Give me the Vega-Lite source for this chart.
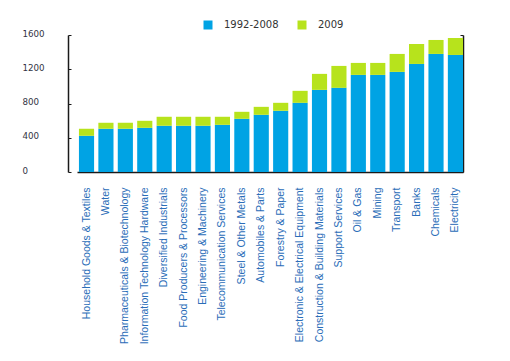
{
  "$schema": "https://vega.github.io/schema/vega-lite/v6.json",
  "width": 386,
  "height": 137,
  "autosize": "none",
  "padding": {"left": 77, "top": 35, "right": 47, "bottom": 189},
  "background": "white",
  "config": {"view": {"stroke": null}},
  "data": {
    "values": [
      {"sector": "Household Goods & Textiles", "period": "1992-2008", "value": 423},
      {"sector": "Household Goods & Textiles", "period": "2009", "value": 82},
      {"sector": "Water", "period": "1992-2008", "value": 505},
      {"sector": "Water", "period": "2009", "value": 70},
      {"sector": "Pharmaceuticals & Biotechnology", "period": "1992-2008", "value": 505},
      {"sector": "Pharmaceuticals & Biotechnology", "period": "2009", "value": 70},
      {"sector": "Information Technology Hardware", "period": "1992-2008", "value": 516},
      {"sector": "Information Technology Hardware", "period": "2009", "value": 82},
      {"sector": "Diversified Industrials", "period": "1992-2008", "value": 540},
      {"sector": "Diversified Industrials", "period": "2009", "value": 105},
      {"sector": "Food Producers & Processors", "period": "1992-2008", "value": 540},
      {"sector": "Food Producers & Processors", "period": "2009", "value": 105},
      {"sector": "Engineering & Machinery", "period": "1992-2008", "value": 540},
      {"sector": "Engineering & Machinery", "period": "2009", "value": 105},
      {"sector": "Telecommunication Services", "period": "1992-2008", "value": 551},
      {"sector": "Telecommunication Services", "period": "2009", "value": 94},
      {"sector": "Steel & Other Metals", "period": "1992-2008", "value": 621},
      {"sector": "Steel & Other Metals", "period": "2009", "value": 82},
      {"sector": "Automobiles & Parts", "period": "1992-2008", "value": 668},
      {"sector": "Automobiles & Parts", "period": "2009", "value": 93},
      {"sector": "Forestry & Paper", "period": "1992-2008", "value": 715},
      {"sector": "Forestry & Paper", "period": "2009", "value": 93},
      {"sector": "Electronic & Electrical Equipment", "period": "1992-2008", "value": 808},
      {"sector": "Electronic & Electrical Equipment", "period": "2009", "value": 140},
      {"sector": "Construction & Building Materials", "period": "1992-2008", "value": 959},
      {"sector": "Construction & Building Materials", "period": "2009", "value": 187},
      {"sector": "Support Services", "period": "1992-2008", "value": 983},
      {"sector": "Support Services", "period": "2009", "value": 256},
      {"sector": "Oil & Gas", "period": "1992-2008", "value": 1134},
      {"sector": "Oil & Gas", "period": "2009", "value": 140},
      {"sector": "Mining", "period": "1992-2008", "value": 1134},
      {"sector": "Mining", "period": "2009", "value": 140},
      {"sector": "Transport", "period": "1992-2008", "value": 1169},
      {"sector": "Transport", "period": "2009", "value": 210},
      {"sector": "Banks", "period": "1992-2008", "value": 1262},
      {"sector": "Banks", "period": "2009", "value": 233},
      {"sector": "Chemicals", "period": "1992-2008", "value": 1379},
      {"sector": "Chemicals", "period": "2009", "value": 163},
      {"sector": "Electricity", "period": "1992-2008", "value": 1367},
      {"sector": "Electricity", "period": "2009", "value": 198}
    ]
  },
  "layer": [
    {
      "mark": {"type": "bar"},
      "encoding": {
        "x": {
          "field": "sector",
          "type": "nominal",
          "sort": null,
          "scale": {"paddingInner": 0.22, "paddingOuter": 0.05, "align": 1},
          "axis": {
            "title": null,
            "labelAngle": -90,
            "labelAlign": "right",
            "labelBaseline": "middle",
            "labelFont": "Liberation Sans",
            "labelFontSize": 10.5,
            "labelColor": "#2a6db8",
            "labelPadding": 15,
            "ticks": false,
            "domainColor": "#1a1a1a",
            "domainWidth": 1.5,
            "labelLimit": 300
          }
        },
        "y": {
          "field": "value",
          "type": "quantitative",
          "stack": "zero",
          "scale": {"domain": [0, 1600], "nice": false},
          "axis": {
            "title": null,
            "values": [0, 400, 800, 1200, 1600],
            "format": "d",
            "grid": false,
            "offset": 9,
            "tickSize": -3,
            "tickColor": "#1a1a1a",
            "domainColor": "#1a1a1a",
            "domainWidth": 1.5,
            "labelAlign": "left",
            "labelBaseline": "middle",
            "labelPadding": 49,
            "labelOffset": -2,
            "labelFont": "DejaVu Sans",
            "labelFontSize": 8.7,
            "labelColor": "#333344"
          }
        },
        "order": {"field": "period", "sort": "ascending"},
        "color": {
          "field": "period",
          "type": "nominal",
          "scale": {"domain": ["1992-2008", "2009"], "range": ["#00a3e4", "#b7e31c"]},
          "legend": {
            "title": null,
            "orient": "none",
            "legendX": 126,
            "legendY": -15,
            "direction": "horizontal",
            "symbolType": "square",
            "symbolSize": 81,
            "symbolStrokeWidth": 0,
            "labelFont": "DejaVu Sans",
            "labelFontSize": 10,
            "labelColor": "#333333",
            "labelOffset": 11,
            "columnPadding": 18
          }
        }
      }
    },
    {
      "mark": {"type": "rule", "opacity": 0},
      "encoding": {
        "y": {
          "datum": 0,
          "type": "quantitative",
          "axis": {
            "orient": "right",
            "title": null,
            "labels": false,
            "values": [0, 400, 800, 1200, 1600],
            "grid": false,
            "tickSize": -3,
            "tickColor": "#1a1a1a",
            "domainColor": "#1a1a1a",
            "domainWidth": 1.5
          }
        }
      }
    }
  ],
  "resolve": {"axis": {"y": "independent"}}
}
